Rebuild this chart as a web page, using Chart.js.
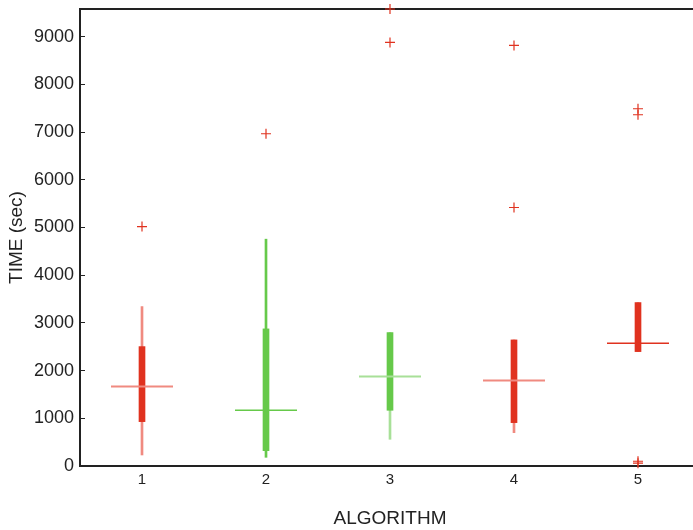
<!DOCTYPE html>
<html>
<head>
<meta charset="utf-8">
<script src="https://cdn.jsdelivr.net/npm/chart.js@4.4.0/dist/chart.umd.min.js"></script>
<style>
  html, body { margin: 0; padding: 0; background: #fff; overflow: hidden; }
  #wrap { width: 700px; height: 530px; }
</style>
</head>
<body>
<div id="wrap"><canvas id="c" width="700" height="530"></canvas></div>
<script>
// ---- data ----
const categories = ['1', '2', '3', '4', '5'];
const whiskerLow  = [231, 182, 560, 699, 2398];
const boxQ1       = [930, 321, 1168, 909, 2398];
const medians     = [1664, 1168, 1874, 1790, 2574];
const boxQ3       = [2503, 2874, 2797, 2643, 3426];
const whiskerHigh = [3342, 4755, 2797, 2643, 3426];
const outlierCategory = ['1', '2', '3', '3', '4', '4', '5', '5', '5', '5'];
const outlierValues   = [5020, 6965, 9580, 8880, 8817, 5419, 7489, 7363, 100, 60];
const yTicks = [0, 1000, 2000, 3000, 4000, 5000, 6000, 7000, 8000, 9000];
const yMax = 9580;

// ---- styles ----
const RED = '#e0321f', GREEN = '#66c94a';
const boxColors     = [RED, GREEN, GREEN, RED, RED];
const whiskerColors = ['#f08a80', GREEN, '#a8e098', '#f08a80', '#f08a80'];
const medianColors  = ['#f08a80', GREEN, '#a8e098', '#f08a80', RED];
const medianWidths  = [2, 1.5, 2, 2, 1.5];
const AX = '#222';
const FONT = "'Liberation Sans', Arial, Helvetica, sans-serif";

new Chart(document.getElementById('c'), {
  type: 'bar',
  data: {
    labels: categories,
    datasets: [
      {
        label: 'whiskers',
        data: categories.map((_, i) => [whiskerLow[i], whiskerHigh[i]]),
        backgroundColor: whiskerColors,
        barThickness: 2,
        grouped: false,
        order: 3
      },
      {
        label: 'boxes',
        data: categories.map((_, i) => [boxQ1[i], boxQ3[i]]),
        backgroundColor: boxColors,
        barThickness: 6,
        grouped: false,
        order: 2
      },
      {
        type: 'line',
        label: 'median',
        data: medians,
        showLine: false,
        pointStyle: 'line',
        pointRadius: 31,
        pointHoverRadius: 31,
        pointBorderColor: medianColors,
        pointBorderWidth: medianWidths,
        order: 1,
        clip: false
      },
      {
        type: 'line',
        label: 'outliers',
        data: outlierCategory.map((c, i) => ({ x: c, y: outlierValues[i] })),
        showLine: false,
        pointStyle: 'cross',
        pointRadius: 5,
        pointHoverRadius: 5,
        pointBorderColor: RED,
        pointBorderWidth: 1.2,
        order: 0,
        clip: false
      }
    ]
  },
  options: {
    responsive: false,
    animation: false,
    events: [],
    layout: { autoPadding: false, padding: { top: 9, left: 0, right: 0, bottom: 0 } },
    plugins: { legend: { display: false }, tooltip: { enabled: false } },
    scales: {
      x: {
        position: 'bottom',
        offset: true,
        grid: { display: false },
        border: { display: true, color: AX, width: 2 },
        ticks: { color: AX, font: { family: FONT, size: 15 }, padding: -3, maxRotation: 0 },
        title: { display: true, text: 'ALGORITHM', color: AX, font: { family: FONT, size: 19 }, padding: { top: 0, bottom: 0 } },
        afterFit(s) { s.height = 64; s.paddingLeft = 0; s.paddingRight = 0; }
      },
      x2: {
        type: 'category',
        position: 'top',
        offset: true,
        grid: { display: false },
        border: { display: true, color: AX, width: 2 },
        ticks: { display: false },
        afterFit(s) { s.height = 0; s.paddingLeft = 0; s.paddingRight = 0; }
      },
      y: {
        min: 0,
        max: yMax,
        grid: { display: true, drawOnChartArea: false, drawTicks: true, tickLength: -5, color: AX, lineWidth: 1 },
        border: { display: true, color: AX, width: 2 },
        ticks: { color: AX, font: { family: FONT, size: 18 }, padding: 11, callback: v => String(v) },
        afterBuildTicks(s) { s.ticks = yTicks.map(v => ({ value: v })); },
        title: { display: true, text: 'TIME (sec)', color: AX, font: { family: FONT, size: 19 }, padding: { top: 5, bottom: 0 } },
        afterFit(s) { s.width = 80; s.paddingTop = 0; s.paddingBottom = 0; }
      }
    }
  }
});
</script>
</body>
</html>
